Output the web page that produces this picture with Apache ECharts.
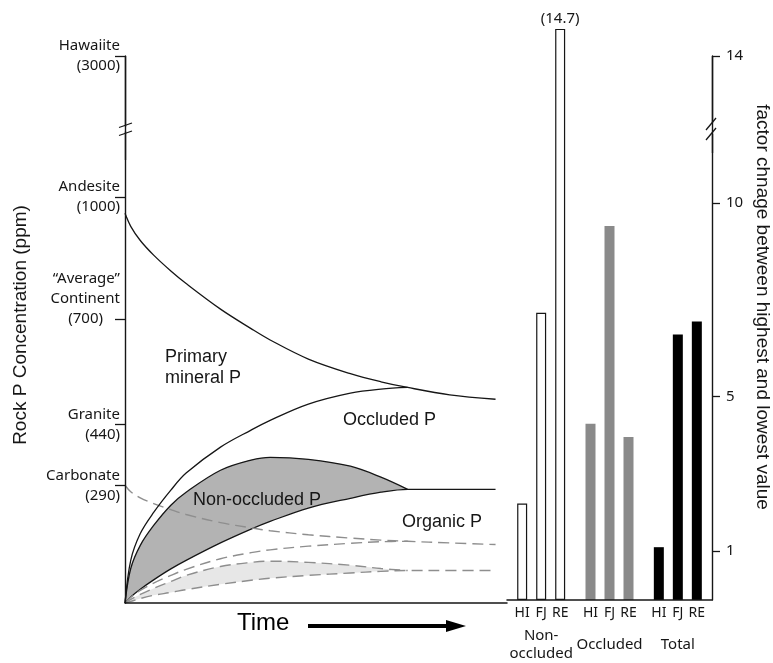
<!DOCTYPE html>
<html><head><meta charset="utf-8">
<style>html,body{margin:0;padding:0;background:#fff}#c{width:773px;height:663px}</style>
<script src="https://cdn.jsdelivr.net/npm/echarts@6/dist/echarts.min.js"></script>
</head><body><div id="c"></div>
<script>
// ---------- Left panel: P pools through time (values in ppm) ----------
const time = [0, 1.5, 4, 7.5, 12, 16, 25, 33, 38, 48, 59, 67, 74, 85, 97];
const primaryTop = [960, 928, 893, 857, 818, 787, 724, 676, 648, 601, 565, 545, 531, 513, 502];
const occludedTop = [0, 105, 171, 223, 278, 320, 384, 426, 450, 490, 517, 527, 531];
const nonOccludedTop = [0, 85, 142, 191, 241, 273, 327, 352, 359, 354, 337, 310, 280];
const organicTop = [0, 15, 34, 57, 84, 105, 148, 182, 201, 234, 258, 273, 280, 280, 280];
const carbonateDecline = [290, 274, 259, 245, 230, 218, 198, 185, 178, 168, 160, 155, 152, 148, 144];
const carbonateRise = [0, 14, 31, 49, 68, 83, 109, 124, 131, 140, 147, 151, 152];
const lightUpper = [0, 9, 21, 36, 53, 68, 90, 100, 103, 100, 93, 85, 80];
const lightLower = [0, 4, 11, 19, 26, 33, 46, 56, 61, 68, 74, 78, 80, 80, 80];
const rockTickValues = [290, 440, 700, 1000, 3000];
const rockTickLabels = ['Carbonate\n(290)', 'Granite\n(440)', '“Average”\nContinent\n(700)', 'Andesite\n(1000)', 'Hawaiite\n(3000)'];

// ---------- Right panel: factor change between highest and lowest value ----------
const poolGroups = ['Non-\noccluded', 'Occluded', 'Total'];
const sites = ['HI', 'FJ', 'RE'];
const hiFactor = [2.23, 4.29, 1.10];
const fjFactor = [7.16, 9.40, 6.60];
const reFactor = [14.7, 3.95, 6.93];
const factorTicks = [1, 5, 10, 14];

const FONT = 'Noto Sans';
const HELV = 'Liberation Sans';
const INK = '#161616';
const BAR_STEP = 19; // centre-to-centre distance of bars inside a group (barWidth + gap)
const chart = echarts.init(document.getElementById('c'));

const pairs = arr => arr.map((v, i) => [time[i], v]);
const curve = (name, arr, extra) => Object.assign({
  type: 'line', name: name, data: pairs(arr), xAxisIndex: 0, yAxisIndex: 0,
  smooth: 0.35, symbol: 'none', silent: true, animation: false,
  lineStyle: { color: INK, width: 1.3 }
}, extra || {});
const dash = { color: '#8e8e8e', width: 1.4, type: [11, 6] };

const groupStyles = [
  { color: '#ffffff', borderColor: INK, borderWidth: 1.2 },
  { color: '#8a8a8a' },
  { color: '#000000' }
];
const factorMax = factorTicks[factorTicks.length - 1];
const barSeries = (name, vals) => ({
  type: 'bar', name: name, xAxisIndex: 1, yAxisIndex: 1, barWidth: 10, barGap: '90%',
  clip: false, silent: true, animation: false,
  data: vals.map((v, i) => ({ value: v, itemStyle: groupStyles[i] })),
  label: { show: true, position: 'bottom', distance: 6, formatter: name,
    fontFamily: FONT, fontSize: 14, color: INK }
});

// values that run past the top of the factor axis get their number written above the bar
const overRange = [];
[hiFactor, fjFactor, reFactor].forEach((vals, s) => vals.forEach((v, g) => {
  if (v > factorMax) overRange.push([g, v, s]);
}));

const rockLabel = v => {
  const i = rockTickValues.indexOf(v);
  if (i < 0) return '';
  const lines = rockTickLabels[i].split('\n');
  if (lines.length === 3) {
    return lines[0] + '\n' + lines[1] + '\n{p|' + lines[2] + '}\n \n ';
  }
  return lines.join('\n');
};

const seg = (x1, y1, x2, y2, w) => ({ type: 'line', silent: true, z: 101,
  shape: { x1: x1, y1: y1, x2: x2, y2: y2 }, style: { stroke: INK, lineWidth: w || 1.4 } });

const option = {
  backgroundColor: '#fff',
  animation: false,
  grid: [
    { left: 125, right: 266, top: 56, bottom: 60, containLabel: false },
    { left: 507, right: 61, top: 56, bottom: 60, containLabel: false }
  ],
  xAxis: [
    { type: 'value', gridIndex: 0, min: 0, max: 100, z: 10,
      axisLine: { show: true, onZero: false, lineStyle: { color: INK, width: 1.5 } },
      axisTick: { show: false }, axisLabel: { show: false }, splitLine: { show: false } },
    { type: 'category', gridIndex: 1, data: poolGroups, z: 10,
      axisLine: { show: true, onZero: false, lineStyle: { color: INK, width: 1.5 } },
      axisTick: { show: false }, splitLine: { show: false },
      axisLabel: { show: true, interval: 0, margin: 45, verticalAlign: 'middle', lineHeight: 18,
        fontFamily: FONT, fontSize: 15, color: INK } }
  ],
  yAxis: [
    { type: 'value', gridIndex: 0, min: 0, max: 3000, z: 10,
      breaks: [{ start: 1100, end: 2900, gap: 147.6 }], breakArea: { show: false },
      axisLine: { show: true, onZero: false, breakLine: false, lineStyle: { color: INK, width: 1.4 } },
      axisTick: { show: true, customValues: rockTickValues, length: 10, lineStyle: { color: INK, width: 1.3 } },
      axisLabel: { show: true, customValues: rockTickValues, formatter: rockLabel, margin: 5,
        fontFamily: FONT, fontSize: 15, color: INK, lineHeight: 20, align: 'right',
        rich: { p: { fontFamily: FONT, fontSize: 15, color: INK, lineHeight: 20, padding: [0, 17, 0, 0] } } },
      splitLine: { show: false } },
    { type: 'value', gridIndex: 1, position: 'right', min: -0.265, max: factorMax, startValue: -0.265, z: 10,
      breaks: [{ start: 11.4, end: 12.6, gap: 0.995 }], breakArea: { show: false },
      axisLine: { show: true, onZero: false, breakLine: false, lineStyle: { color: INK, width: 1.4 } },
      axisTick: { show: true, customValues: factorTicks, length: 8, lineStyle: { color: INK, width: 1.3 } },
      axisLabel: { show: true, customValues: factorTicks, margin: 14, fontFamily: FONT, fontSize: 15, color: INK },
      splitLine: { show: false } }
  ],
  series: [
    curve('Non-occluded P', nonOccludedTop, { areaStyle: { color: '#b3b3b3', opacity: 1 } }),
    curve('Organic P', organicTop, { areaStyle: { color: '#ffffff', opacity: 1 } }),
    curve('light upper', lightUpper, { lineStyle: dash, areaStyle: { color: '#e7e7e7', opacity: 1 } }),
    curve('light lower', lightLower, { lineStyle: dash, areaStyle: { color: '#ffffff', opacity: 1 } }),
    curve('carbonate decline', carbonateDecline, { lineStyle: dash }),
    curve('carbonate rise', carbonateRise, { lineStyle: dash }),
    curve('Occluded P', occludedTop),
    curve('Primary mineral P', primaryTop),
    barSeries(sites[0], hiFactor),
    barSeries(sites[1], fjFactor),
    barSeries(sites[2], reFactor),
    {
      type: 'custom', name: 'over-range value', xAxisIndex: 1, yAxisIndex: 1, silent: true,
      clip: false, animation: false, z: 5, data: overRange,
      renderItem: (params, api) => {
        const p = api.coord([api.value(0), api.value(1)]);
        const off = (api.value(2) - (sites.length - 1) / 2) * BAR_STEP;
        return { type: 'text', x: p[0] + off, y: p[1] - 3,
          style: { text: '(' + api.value(1) + ')', fill: INK, font: '15px "' + FONT + '"',
            align: 'center', verticalAlign: 'bottom' } };
      }
    }
  ],
  graphic: [
    // axis names
    { type: 'text', x: 21, y: 325, rotation: Math.PI / 2, silent: true,
      style: { text: 'Rock P Concentration (ppm)', font: '19px "' + HELV + '"', fill: INK, align: 'center', verticalAlign: 'middle' } },
    { type: 'text', x: 762, y: 307, rotation: -Math.PI / 2, silent: true,
      style: { text: 'factor chnage between highest and lowest value', font: '19px "' + HELV + '"', fill: INK, align: 'center', verticalAlign: 'middle' } },
    // region labels
    { type: 'text', x: 165, y: 368, silent: true, z: 50,
      style: { text: 'Primary\nmineral P', font: '18px "' + HELV + '"', lineHeight: 21, fill: INK, align: 'left', verticalAlign: 'middle' } },
    { type: 'text', x: 343, y: 420, silent: true, z: 50,
      style: { text: 'Occluded P', font: '18px "' + HELV + '"', fill: INK, align: 'left', verticalAlign: 'middle' } },
    { type: 'text', x: 193, y: 500, silent: true, z: 50,
      style: { text: 'Non-occluded P', font: '18px "' + HELV + '"', fill: INK, align: 'left', verticalAlign: 'middle' } },
    { type: 'text', x: 402, y: 522, silent: true, z: 50,
      style: { text: 'Organic P', font: '18px "' + HELV + '"', fill: INK, align: 'left', verticalAlign: 'middle' } },
    // time label and arrow
    { type: 'text', x: 237, y: 623, silent: true,
      style: { text: 'Time', font: '24px "' + HELV + '"', fill: '#000', align: 'left', verticalAlign: 'middle' } },
    { type: 'line', silent: true, shape: { x1: 308, y1: 626, x2: 450, y2: 626 }, style: { stroke: '#000', lineWidth: 4 } },
    { type: 'polygon', silent: true, shape: { points: [[446, 620], [466, 626], [446, 632]] }, style: { fill: '#000' } },
    // left axis: axis line through the break, with // marks
    seg(125.5, 56, 125.5, 126.5), seg(125.5, 131.5, 125.5, 160),
    seg(119, 127.5, 132, 123, 1.3), seg(119, 135.5, 132, 131, 1.3),
    // right axis: axis line through the break, with // marks
    seg(712.5, 56, 712.5, 122.5), seg(712.5, 134, 712.5, 153),
    seg(706, 130, 716, 118, 1.3), seg(706, 140, 716, 128, 1.3)
  ]
};
chart.setOption(option);
</script>
</body></html>
